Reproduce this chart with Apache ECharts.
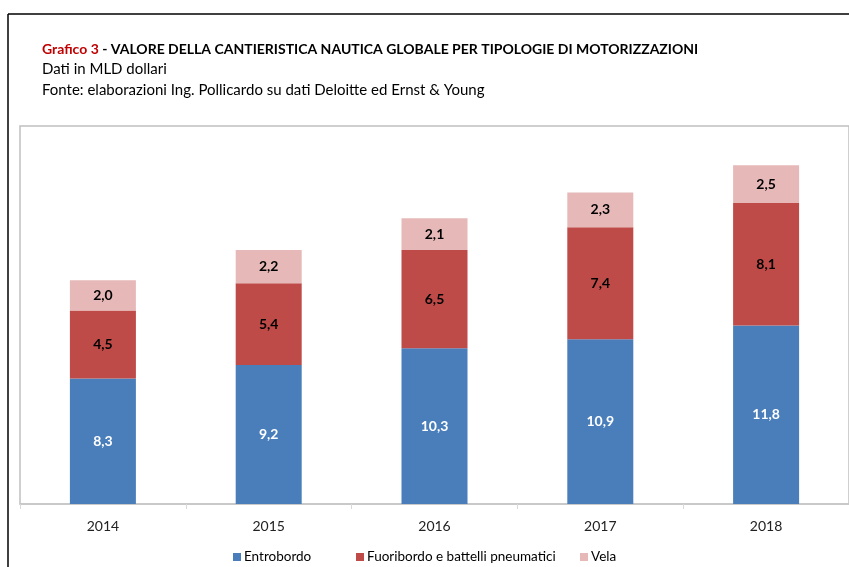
<!DOCTYPE html>
<html>
<head>
<meta charset="utf-8">
<script src="https://cdn.jsdelivr.net/npm/echarts@6/dist/echarts.min.js"></script>
<style>
  html, body { margin: 0; padding: 0; background: #ffffff; }
  #chart { width: 849px; height: 567px; }
</style>
</head>
<body>
<div id="chart"></div>
<script>
// Anni e valori (miliardi di dollari) per tipologia di motorizzazione
const anni = ['2014', '2015', '2016', '2017', '2018'];
const entrobordo = [8.3, 9.2, 10.3, 10.9, 11.8];
const fuoribordo = [4.5, 5.4, 6.5, 7.4, 8.1];
const vela = [2.0, 2.2, 2.1, 2.3, 2.5];
const nomiSerie = ['Entrobordo', 'Fuoribordo e battelli pneumatici', 'Vela'];

const FONT = 'Lato, "Open Sans", sans-serif';
const virgola = p => p.value.toFixed(1).replace('.', ',');

function serie(nome, dati, colore, coloreTesto) {
  return {
    name: nome,
    type: 'bar',
    stack: 'totale',
    data: dati,
    barWidth: 66,
    itemStyle: { color: colore },
    label: {
      show: true,
      position: 'inside',
      formatter: virgola,
      color: coloreTesto,
      fontWeight: 'bold',
      fontSize: 14,
      fontFamily: FONT
    }
  };
}

// una voce di legenda per ogni serie, ciascuna con la propria posizione
function voceLegenda(nome, sinistra) {
  return {
    left: sinistra, top: 550, padding: 0,
    icon: 'rect',
    itemWidth: 8, itemHeight: 8,
    textStyle: { color: '#000000', fontSize: 13.5, fontFamily: FONT, padding: [0, 0, 0, -2] },
    data: [nome]
  };
}

const chart = echarts.init(document.getElementById('chart'), null, { renderer: 'canvas' });
chart.setOption({
  backgroundColor: '#ffffff',
  animation: false,
  textStyle: { fontFamily: FONT },
  title: [
    {
      left: 42, top: 42, padding: 0,
      text: '{r|Grafico 3}{b| - VALORE DELLA CANTIERISTICA NAUTICA GLOBALE PER TIPOLOGIE DI MOTORIZZAZIONI}',
      textStyle: {
        rich: {
          r: { color: '#c00000', fontWeight: 'bold', fontSize: 14, fontFamily: FONT },
          b: { color: '#000000', fontWeight: 'bold', fontSize: 14, fontFamily: FONT }
        }
      }
    },
    {
      left: 42, top: 62, padding: 0,
      text: 'Dati in MLD dollari',
      textStyle: { color: '#000000', fontWeight: 'normal', fontSize: 15, fontFamily: FONT }
    },
    {
      left: 42, top: 83, padding: 0,
      text: 'Fonte: elaborazioni Ing. Pollicardo su dati Deloitte ed Ernst & Young',
      textStyle: { color: '#000000', fontWeight: 'normal', fontSize: 15, fontFamily: FONT }
    }
  ],
  graphic: [
    { type: 'line', shape: { x1: 8, y1: 14, x2: 8, y2: 567 }, style: { stroke: '#000000', lineWidth: 1.5 } },
    { type: 'line', shape: { x1: 8, y1: 14, x2: 849, y2: 14 }, style: { stroke: '#000000', lineWidth: 1.5 } }
  ],
  legend: [
    voceLegenda(nomiSerie[0], 233),
    voceLegenda(nomiSerie[1], 356),
    voceLegenda(nomiSerie[2], 580)
  ],
  grid: {
    left: 20, right: -2, top: 126, bottom: 63,
    show: true, borderColor: '#c0c0c0', borderWidth: 1.5, backgroundColor: '#ffffff'
  },
  xAxis: {
    type: 'category',
    data: anni,
    axisLine: { lineStyle: { color: '#c8c8c8', width: 1.5 } },
    axisTick: { show: true, length: 5, lineStyle: { color: '#d9d9d9' } },
    axisLabel: { color: '#222222', fontSize: 14, margin: 15, fontFamily: FONT }
  },
  yAxis: {
    type: 'value', min: 0, max: 25, show: false,
    splitLine: { show: false }
  },
  series: [
    serie(nomiSerie[0], entrobordo, '#4a7ebb', '#ffffff'),
    serie(nomiSerie[1], fuoribordo, '#be4b48', '#000000'),
    serie(nomiSerie[2], vela, '#e6b9b8', '#000000')
  ]
});
</script>
</body>
</html>
